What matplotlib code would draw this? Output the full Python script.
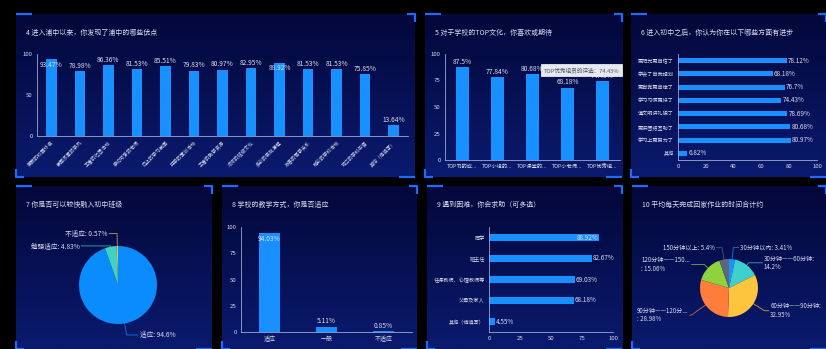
import numpy as np
import matplotlib
matplotlib.use('Agg')
import matplotlib.pyplot as plt
from matplotlib.colors import LinearSegmentedColormap

plt.rcParams['font.family'] = ['Noto Sans CJK SC', 'DejaVu Sans']

W, H = 826, 349

# ---- data ----
q4_title = '4 进入浦中以来，你发现了浦中的哪些优点'
q4_labels = ['美丽的校园环境', '氛围浓厚的学风', '丰富的社团活动', '亲切可爱的老师', '向上的学习氛围',
             '开学的军训活动', '丰富的教学资源', '浓浓的班级文化', '多彩的实践课程', '友善的同学关系',
             '精彩的学校活动', '可口的学校午餐', '其他（请填写）']
q4_values = [93.47, 78.98, 86.36, 81.53, 85.51, 79.83, 80.97, 82.95, 88.92, 81.53, 81.53, 75.85, 13.64]

q5_title = '5 对于学校的TOP文化，你喜欢或期待'
q5_labels = ['TOP书的成...', 'TOP小组的...', 'TOP课堂的...', 'TOP小老师...', 'TOP优秀组...']
q5_values = [87.5, 77.84, 80.68, 68.18, 74.43]
q5_tooltip = 'TOP优秀组员的评选：74.43%'

q6_title = '6 进入初中之后，你认为你在以下哪些方面有进步'
q6_labels = ['更阳光更自信了', '学会了自我规划', '更自觉更自律了', '学习习惯更好了',
             '懂文明讲礼貌了', '更讲团结互助了', '学习上更努力了', '其他']
q6_values = [78.12, 68.18, 76.7, 74.43, 78.69, 80.68, 80.97, 6.82]

q7_title = '7 你是否可以较快融入初中班级'
q7_labels = ['适应', '勉强适应', '不适应']
q7_values = [94.6, 4.83, 0.57]

q8_title = '8 学校的教学方式，你是否适应'
q8_labels = ['适应', '一般', '不适应']
q8_values = [94.03, 5.11, 0.85]

q9_title = '9 遇到困难，你会求助（可多选）'
q9_labels = ['同学', '班主任', '任课教师、心理教师等', '父母及家人', '其他（请填写）']
q9_values = [88.92, 82.67, 69.03, 68.18, 4.55]

q10_title = '10 平均每天完成回家作业的时间合计约'
q10_labels = ['30分钟以内: 3.41%', '30分钟——60分钟:\n14.2%', '60分钟——90分钟:\n32.95%',
              '90分钟——120分...\n: 28.98%', '120分钟——150...\n: 15.06%', '150分钟以上: 5.4%']
q10_values = [3.41, 14.2, 32.95, 28.98, 15.06, 5.4]

BAR = '#1890ff'
TXT = '#d8def0'
AXC = '#9aa8d4'
EDGE = '#1f6bff'

fig = plt.figure(figsize=(W / 100, H / 100), dpi=100, facecolor='black')


def box(x0, y0, x1, y1):
    return [x0 / W, 1 - y1 / H, (x1 - x0) / W, (y1 - y0) / H]


navy = LinearSegmentedColormap.from_list('navy', ['#03073a', '#0a1a6e'])
grad = np.linspace(0, 1, 100).reshape(-1, 1)


def panel(x0, y0, x1, y1, title):
    bg = fig.add_axes(box(x0, y0, x1, y1))
    bg.imshow(grad, aspect='auto', cmap=navy, extent=[0, 1, 0, 1], origin='upper')
    bg.set_xlim(0, 1)
    bg.set_ylim(0, 1)
    bg.axis('off')
    w, h = x1 - x0, y1 - y0
    dx, dy = 8 / w, 8 / h
    kw = dict(color=EDGE, lw=1.6, clip_on=False, solid_capstyle='butt')
    bg.plot([0, 2 * dx], [1, 1], **kw)
    bg.plot([1 - dx, 1, 1], [1, 1, 1 - dy], **kw)
    bg.plot([0, 0, dx], [dy, 0, 0], **kw)
    bg.plot([1 - 2 * dx, 1], [0, 0], **kw)
    fig.text((x0 + 10) / W, 1 - (y0 + 19) / H, title, color=TXT, fontsize=5, va='center')


def style(ax):
    ax.set_facecolor('none')
    for s in ['top', 'right']:
        ax.spines[s].set_visible(False)
    ax.spines['left'].set_color(AXC)
    ax.spines['bottom'].set_color(AXC)
    ax.spines['left'].set_linewidth(0.6)
    ax.spines['bottom'].set_linewidth(0.6)
    ax.tick_params(colors=TXT, labelsize=4.3, length=0, pad=3)


def vbars(ax, labels, values, yticks):
    x = np.arange(len(values))
    ax.bar(x, values, width=0.37, color=BAR)
    for xi, v in zip(x, values):
        if v >= 88:
            ax.text(xi, v - 1.5, f'{v}%', ha='center', va='top', color=TXT, fontsize=4.8)
        else:
            ax.text(xi, v + 1.5, f'{v}%', ha='center', va='bottom', color=TXT, fontsize=4.8)
    ax.set_xlim(-0.5, len(values) - 0.5)
    ax.set_ylim(0, 100)
    ax.set_yticks(yticks)
    ax.set_xticks(x)
    style(ax)


def hbars(ax, labels, values, xticks, ylabsize):
    y = np.arange(len(values))
    ax.barh(y, values, height=0.36, color=BAR)
    for yi, v in zip(y, values):
        if v >= 88:
            ax.text(v - 0.8, yi, f'{v}%', ha='right', va='center', color=TXT, fontsize=4.6)
        else:
            ax.text(v + 0.8, yi, f'{v}%', ha='left', va='center', color=TXT, fontsize=4.6)
    ax.set_ylim(len(values) - 0.5, -0.5)
    ax.set_xlim(0, 100)
    ax.set_xticks(xticks)
    ax.set_yticks(y)
    style(ax)
    ax.set_yticklabels(labels, fontsize=ylabsize)


def pie(cx, cy, r, area, values, labels, colors, lay, fs):
    x0, y0, x1, y1 = area
    ax = fig.add_axes(box(x0, y0, x1, y1))
    ax.pie(values, colors=colors, startangle=90, counterclock=False,
           wedgeprops=dict(linewidth=0))
    ax.set_aspect('auto')
    ax.set_xlim((x0 - cx) / r, (x1 - cx) / r)
    ax.set_ylim((cy - y1) / r, (cy - y0) / r)
    ax.axis('off')
    ang = 90 - (np.cumsum(values) - np.array(values) / 2) / sum(values) * 360
    for a, lab, col, (rr, hl) in zip(ang, labels, colors, lay):
        t = np.deg2rad(a)
        p1 = np.array([np.cos(t), np.sin(t)]) * 1.0
        p2 = np.array([np.cos(t), np.sin(t)]) * rr
        side = 1 if np.cos(t) >= 0 else -1
        p3 = p2 + np.array([side * hl, 0])
        ax.plot([p1[0], p2[0], p3[0]], [p1[1], p2[1], p3[1]], color=col, lw=0.6, alpha=0.8)
        ax.text(p3[0] + side * 0.05, p3[1], lab, ha='left' if side > 0 else 'right',
                va='center', color=TXT, fontsize=fs, multialignment='left', linespacing=1.1)


# ---- top row ----
panel(16, 14, 415, 177, q4_title)
ax = fig.add_axes(box(37, 54, 408, 136))
vbars(ax, q4_labels, q4_values, [0, 50, 100])
ax.set_xticklabels(q4_labels, rotation=45, ha='right', rotation_mode='anchor', fontsize=3.5)

panel(425, 14, 622, 177, q5_title)
ax = fig.add_axes(box(445, 54, 620, 160))
vbars(ax, q5_labels, q5_values, [0, 25, 50, 75, 100])
ax.set_xticklabels(q5_labels, fontsize=3.8)
ax.annotate(q5_tooltip, xy=(4, q5_values[4]), xytext=(-15, 8), textcoords='offset points',
            ha='center', va='center', fontsize=4.1, color='#505560', zorder=10,
            annotation_clip=False,
            bbox=dict(boxstyle='square,pad=0.5', fc='#e6e9f0', ec='#ffffff', lw=0.5))

panel(631, 14, 826, 177, q6_title)
ax = fig.add_axes(box(678, 54, 817, 160))
hbars(ax, q6_labels, q6_values, [0, 20, 40, 60, 80, 100], 3.7)

# ---- bottom row ----
panel(16, 186, 212, 349, q7_title)
pie(118, 285, 39, (18, 215, 210, 349), q7_values,
    [f'{l}: {v}%' for l, v in zip(q7_labels, q7_values)],
    ['#0a8cff', '#3fd3c6', '#e8c548'],
    [(1.3, 0.3), (1.02, 0.75), (1.32, 0.2)], 4.8)

panel(222, 186, 417, 349, q8_title)
ax = fig.add_axes(box(241, 227, 412, 332))
vbars(ax, q8_labels, q8_values, [0, 25, 50, 75, 100])
ax.set_xticklabels(q8_labels, fontsize=4.3)

panel(427, 186, 622, 349, q9_title)
ax = fig.add_axes(box(489, 227, 613, 332))
hbars(ax, q9_labels, q9_values, [0, 25, 50, 75, 100], 3.7)

panel(632, 186, 826, 349, q10_title)
pie(729, 288, 29, (634, 215, 826, 349), q10_values, q10_labels,
    ['#1e90ff', '#3ecfcf', '#fdc43d', '#ff7d3a', '#8ed23e', '#5a6878'],
    [(1.4, 0.18), (1.1, 0.48), (1.45, 0.15), (1.6, 0.05), (1.18, 0.43), (1.41, 0.19)], 4.4)

fig.savefig('out.png', dpi=100, facecolor='black')
